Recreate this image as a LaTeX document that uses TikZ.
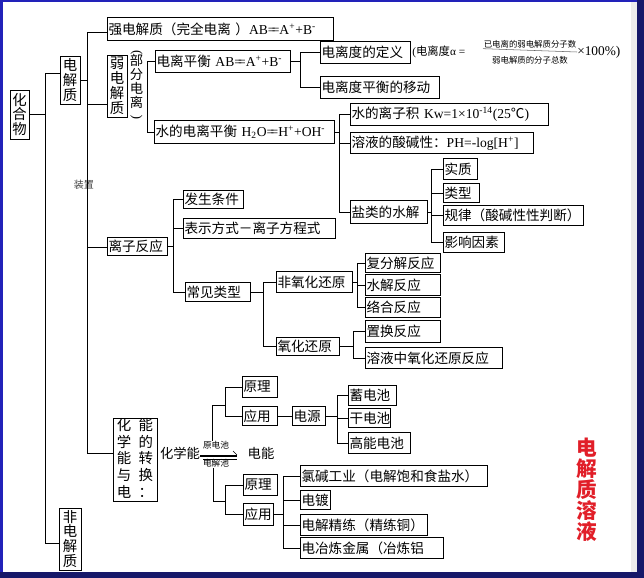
\documentclass[tikz,border=0pt]{standalone}
\usepackage{fontspec}
\usepackage{graphicx}
\setmainfont{Noto Sans CJK SC}
\newfontfamily\tm{Liberation Serif}
\definecolor{bordA}{RGB}{34,34,185}
\definecolor{bordB}{RGB}{22,24,105}
\definecolor{redtxt}{RGB}{225,30,40}
\newcommand\fs{\fontsize{10.2}{12}\selectfont}
\newcommand\vfs{\fontsize{10.8}{11.2}\selectfont}
\newcommand\myeq{=\kern-0.28em=}
\tikzset{
 bx/.style={draw, line width=0.7pt, inner xsep=0.8pt, inner ysep=0pt, align=left, font=\fs},
 vt/.style={draw, line width=0.7pt, inner sep=0pt, align=center, font=\vfs},
 ln/.style={line width=0.7pt},
 lbl/.style={inner sep=0pt},
}
\newcommand\mybox[6]{%
 \pgfmathsetmacro\bw{(#4-#2)*0.75}%
 \pgfmathsetmacro\bh{(#5-#3)*0.75}%
 \pgfmathsetmacro\tw{(#4-#2)*0.75-1.6}%
 \node[bx,anchor=north west,minimum width=\bw pt,minimum height=\bh pt,text width=\tw pt] (#1) at (#2,#3) {#6};}
\newcommand\myvbox[6]{%
 \pgfmathsetmacro\bw{(#4-#2)*0.75}%
 \pgfmathsetmacro\bh{(#5-#3)*0.75}%
 \node[vt,minimum width=\bw pt,minimum height=\bh pt] (#1) at ({(#2+#4)/2},{(#3+#5)/2}) {#6};}
\begin{document}
\begin{tikzpicture}[x=0.75pt,y=-0.75pt]
\useasboundingbox (0,0) rectangle (644,578);
\fill[white] (0,0) rectangle (644,578);
\fill[black!7] (631,0) rectangle (637,578);
\fill[bordA] (0,0) rectangle (3,578);
\fill[bordA] (0,0) rectangle (644,2);
\fill[bordB] (637,0) rectangle (644,578);
\fill[bordB] (0,572) rectangle (644,578);

% nodes
\myvbox{hhw}{10}{90}{29}{139}{化\\合\\物}
\myvbox{djz}{60}{56}{80}{104}{电\\解\\质}
\myvbox{fdjz}{59}{508}{81}{570}{非\\电\\解\\质}
\mybox{qdjz}{107}{17}{333}{40}{强电解质（完全电离 ）{\tm AB\myeq A\textsuperscript{+}+B\textsuperscript{-}}}
\myvbox{rdjz}{107}{55}{127}{117}{弱\\电\\解\\质}
\node[lbl,align=center,font=\fontsize{10}{10.4}\selectfont] (bfdl) at (136.5,85) {{\tm\rotatebox{-90}{(}}\\[-1pt]部\\分\\电\\离\\[-1pt]{\tm\rotatebox{90}{(}}};
\mybox{dlph}{155}{50}{290}{72}{电离平衡 {\tm AB\myeq A\textsuperscript{+}+B\textsuperscript{-}}}
\mybox{dldy}{320}{41}{410}{63}{电离度的定义}
\mybox{dlyd}{320}{76}{439}{98}{电离度平衡的移动}
\node[lbl,anchor=west,font=\fontsize{8.5}{10}\selectfont] (frm1) at (412,52) {{\tm (}电离度{\tm α = }};
\node[lbl,font=\fontsize{6.3}{7}\selectfont] (num) at (530,44.5) {已电离的弱电解质分子数};
\node[lbl,font=\fontsize{6.3}{7}\selectfont] (den) at (530,60) {弱电解质的分子总数};
\node[lbl,anchor=west,font=\fontsize{10}{12}\selectfont\tm] (frm2) at (577,52) {×100\%)};
\draw[line width=0.4pt,black!60] (num.south west -| 483,0) -- (frm2.west);
\mybox{sdl}{154}{120}{334}{143}{水的电离平衡 {\tm H\textsubscript{2}O\myeq H\textsuperscript{+}+OH\textsuperscript{-}}}
\mybox{szj}{350}{103}{548}{125}{水的离子积 {\tm Kw=1×10\textsuperscript{-14}(25}℃{\tm )}}
\mybox{ryx}{350}{132}{533}{153}{溶液的酸碱性：{\tm PH=-log[H\textsuperscript{+}]}}
\mybox{ylsj}{350}{200}{427}{223}{盐类的水解}
\mybox{sz}{443}{158}{477}{179}{实质}
\mybox{lx}{443}{183}{479}{202}{类型}
\mybox{gl}{443}{205}{583}{225}{规律（酸碱性性判断）}
\mybox{yx}{443}{232}{504}{252}{影响因素}
\node[lbl,font=\fontsize{7.5}{8}\selectfont,text=black!75] (zz) at (84,185) {装置};
\mybox{lzfy}{107}{237}{167}{255}{离子反应}
\mybox{fstj}{183}{190}{243}{208}{发生条件}
\mybox{bsfs}{183}{218}{335}{238}{表示方式－离子方程式}
\mybox{cjlx}{185}{282}{250}{301}{常见类型}
\mybox{fyh}{276}{271}{352}{292}{非氧化还原}
\mybox{yh}{276}{337}{339}{355}{氧化还原}
\mybox{ffj}{365}{253}{440}{272}{复分解反应}
\mybox{sjfy}{365}{274}{440}{295}{水解反应}
\mybox{lhfy}{365}{297}{440}{317}{络合反应}
\mybox{zhfy}{365}{320}{440}{342}{置换反应}
\mybox{ryzy}{365}{347}{502}{368}{溶液中氧化还原反应}
\node[vt,minimum width=33pt,minimum height=58.5pt] (hxn) at (135,460)
 {\renewcommand\arraystretch{1}\fontsize{10.8}{11.4}\selectfont
  \begin{tabular}{@{}c@{\hspace{5.5pt}}c@{}}化&能\\学&的\\能&转\\与&换\\电&：\end{tabular}};
\node[lbl,font=\fontsize{10}{12}\selectfont] (hxt) at (180,453) {化学能};
\node[lbl,font=\fontsize{10}{12}\selectfont] (dn) at (261,453) {电能};
\node[lbl,font=\fontsize{6.5}{7}\selectfont] (ydc) at (216,445) {原电池};
\node[lbl,font=\fontsize{6.5}{7}\selectfont] (djc) at (216,463.5) {电解池};
\mybox{yl1}{242}{376}{277}{397}{原理}
\mybox{yy1}{242}{406}{277}{425}{应用}
\mybox{dy}{292}{406}{325}{425}{电源}
\mybox{xdc}{348}{385}{396}{405}{蓄电池}
\mybox{gdc}{348}{408}{390}{427}{干电池}
\mybox{gndc}{348}{432}{410}{453}{高能电池}
\mybox{yl2}{243}{474}{277}{495}{原理}
\mybox{yy2}{243}{503}{273}{525}{应用}
\mybox{ljgy}{300}{465}{487}{486}{氯碱工业（电解饱和食盐水）}
\mybox{dd}{300}{490}{330}{509}{电镀}
\mybox{djjl}{300}{514}{427}{535}{电解精练（精练铜）}
\mybox{dylj}{300}{537}{443}{558}{电冶炼金属（冶炼铝}
\node[lbl,align=center,text=redtxt,font=\fontsize{15.5}{15.8}\selectfont\bfseries] (title) at (587,490) {电\\解\\质\\溶\\液};

% connectors
\draw[ln] (hhw.east) -- (hhw.east -| 45,0);
\draw[ln] (45,73) -- (45,543);
\draw[ln] (45,73) -- (djz.west |- 0,73);
\draw[ln] (45,543) -- (fdjz.west |- 0,543);

\draw[ln] (djz.east) -- (djz.east -| 87,0);
\draw[ln] (87,32) -- (87,453);
\draw[ln] (87,32) -- (qdjz.west |- 0,32);
\draw[ln] (87,104) -- (rdjz.west |- 0,104);
\draw[ln] (87,247) -- (lzfy.west |- 0,247);
\draw[ln] (87,453) -- (hxn.west |- 0,453);

\draw[ln] (dlph.west) -- (dlph.west -| 147,0) |- (sdl.west);

\draw[ln] (dlph.east) -- (dlph.east -| 300,0);
\draw[ln] (dldy.west) -- (dldy.west -| 300,0) |- (dlyd.west);

\draw[ln] (sdl.east) -- (sdl.east -| 339,0);
\draw[ln] (szj.west) -- (szj.west -| 339,0) |- (ylsj.west);
\draw[ln] (ryx.west) -- (ryx.west -| 339,0);

\draw[ln] (ylsj.east) -- (ylsj.east -| 431,0);
\draw[ln] (sz.west) -- (sz.west -| 431,0) |- (yx.west);
\draw[ln] (lx.west) -- (lx.west -| 431,0);
\draw[ln] (gl.west) -- (gl.west -| 431,0);

\draw[ln] (lzfy.east) -- (lzfy.east -| 173,0);
\draw[ln] (fstj.west) -- (fstj.west -| 173,0) |- (cjlx.west);
\draw[ln] (bsfs.west) -- (bsfs.west -| 173,0);

\draw[ln] (cjlx.east) -- (cjlx.east -| 263,0);
\draw[ln] (fyh.west) -- (fyh.west -| 263,0) |- (yh.west);

\draw[ln] (fyh.east) -- (fyh.east -| 357,0);
\draw[ln] (ffj.west) -- (ffj.west -| 357,0) |- (lhfy.west);
\draw[ln] (sjfy.west) -- (sjfy.west -| 357,0);

\draw[ln] (yh.east) -- (yh.east -| 353,0);
\draw[ln] (zhfy.west) -- (zhfy.west -| 353,0) |- (ryzy.west);

% energy conversion
\draw[line width=0.8pt] (hxt.east |- 0,456) -- (237,456);
\draw[line width=0.5pt] (203,459) -- (237,459);
\draw[line width=0.5pt] (233,451) -- (237,455);
\draw[ln] (ydc.north -| 212,0) -- (212,405) -- (225,405);
\draw[ln] (yl1.west) -- (yl1.west -| 225,0) |- (yy1.west);
\draw[ln] (yy1.east) -- (dy.west);
\draw[ln] (dy.east) -- (dy.east -| 337,0);
\draw[ln] (xdc.west) -- (xdc.west -| 337,0) |- (gndc.west);
\draw[ln] (gdc.west) -- (gdc.west -| 337,0);

\draw[ln] (djc.south -| 213,0) -- (213,501) -- (225,501);
\draw[ln] (yl2.west) -- (yl2.west -| 225,0) |- (yy2.west);
\draw[ln] (yy2.east) -- (yy2.east -| 283,0);
\draw[ln] (ljgy.west) -- (ljgy.west -| 283,0) |- (dylj.west);
\draw[ln] (dd.west) -- (dd.west -| 283,0);
\draw[ln] (djjl.west) -- (djjl.west -| 283,0);
\end{tikzpicture}
\end{document}
